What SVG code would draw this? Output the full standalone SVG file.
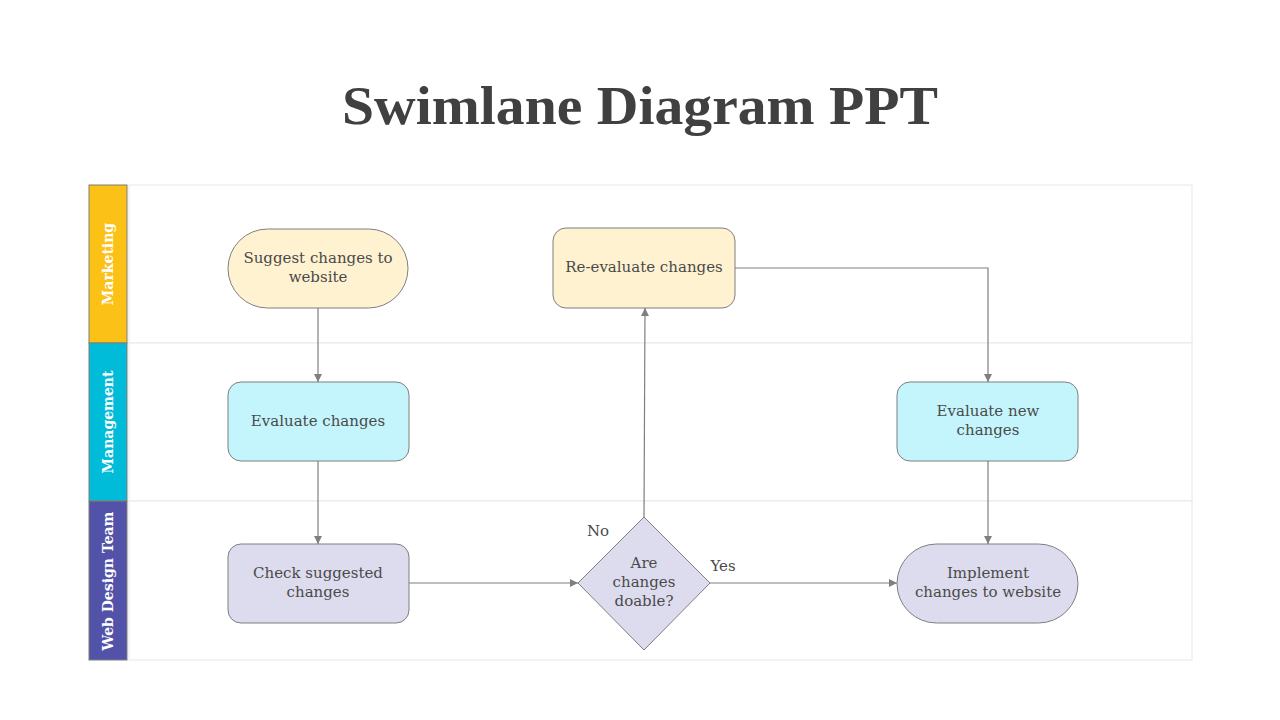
<svg xmlns="http://www.w3.org/2000/svg" width="1280" height="720" viewBox="0 0 1280 720">
<defs>
<marker id="arr" viewBox="0 0 10 10" refX="10" refY="5" markerWidth="8" markerHeight="8" markerUnits="userSpaceOnUse" orient="auto">
<path d="M0,0 L10,5 L0,10 z" fill="#7f7f7f"/>
</marker>
<style>
.title{font-family:"Liberation Serif","DejaVu Serif",serif;font-weight:bold;font-size:54px;fill:#404040}
.lane{stroke:#ececec;stroke-width:1.2;fill:#fff}
.hdr{stroke:#7f7f7f;stroke-width:1}
.lbl{font-family:"DejaVu Serif","Liberation Serif",serif;font-weight:bold;font-size:14px;fill:#fff}
.node{stroke:#7f7f7f;stroke-width:1}
.y{fill:#fff2d1}.c{fill:#c4f5fc}.p{fill:#dddcef}
.t{font-family:"DejaVu Serif","Liberation Serif",serif;font-size:15px;fill:#4a4a4a;text-anchor:middle}
.conn{fill:none;stroke:#7f7f7f;stroke-width:1.2}
</style>
</defs>
<rect width="1280" height="720" fill="#fff"/>
<text class="title" x="640" y="124" text-anchor="middle" textLength="596" lengthAdjust="spacingAndGlyphs">Swimlane Diagram PPT</text>

<g id="lanes">
<rect class="lane" x="129" y="185" width="1063" height="158"/>
<rect class="lane" x="129" y="343" width="1063" height="158"/>
<rect class="lane" x="129" y="501" width="1063" height="159"/>
<rect class="hdr" x="89" y="185" width="38" height="158" fill="#fbc117"/>
<rect class="hdr" x="89" y="343" width="38" height="158" fill="#00bcd8"/>
<rect class="hdr" x="89" y="501" width="38" height="159" fill="#5252a8"/>
<text class="lbl" transform="translate(113,264) rotate(-90)" text-anchor="middle">Marketing</text>
<text class="lbl" transform="translate(113,422) rotate(-90)" text-anchor="middle">Management</text>
<text class="lbl" transform="translate(113,581) rotate(-90)" text-anchor="middle">Web Design Team</text>
</g>

<g id="connectors">
<line class="conn" x1="318" y1="308" x2="318" y2="382" marker-end="url(#arr)"/>
<line class="conn" x1="318" y1="461" x2="318" y2="544" marker-end="url(#arr)"/>
<line class="conn" x1="409" y1="583" x2="578" y2="583" marker-end="url(#arr)"/>
<polyline class="conn" points="644,517 645,308" marker-end="url(#arr)"/>
<polyline class="conn" points="735,268 988,268 988,382" marker-end="url(#arr)"/>
<line class="conn" x1="988" y1="461" x2="988" y2="544" marker-end="url(#arr)"/>
<line class="conn" x1="710" y1="583" x2="897" y2="583" marker-end="url(#arr)"/>
<text class="t" x="598" y="536">No</text>
<text class="t" x="723" y="571">Yes</text>
</g>

<g id="suggest">
<rect class="node y" x="228" y="229" width="180" height="79" rx="39.5"/>
<text class="t" x="318" y="263">Suggest changes to</text>
<text class="t" x="318" y="282">website</text>
</g>
<g id="reevaluate">
<rect class="node y" x="553" y="228" width="182" height="80" rx="13"/>
<text class="t" x="644" y="272">Re-evaluate changes</text>
</g>
<g id="evaluate">
<rect class="node c" x="228" y="382" width="181" height="79" rx="13"/>
<text class="t" x="318" y="426">Evaluate changes</text>
</g>
<g id="evaluate-new">
<rect class="node c" x="897" y="382" width="181" height="79" rx="13"/>
<text class="t" x="988" y="416">Evaluate new</text>
<text class="t" x="988" y="435">changes</text>
</g>
<g id="check">
<rect class="node p" x="228" y="544" width="181" height="79" rx="13"/>
<text class="t" x="318" y="578">Check suggested</text>
<text class="t" x="318" y="597">changes</text>
</g>
<g id="decision">
<polygon class="node p" points="644,517 710,583 644,650 578,583"/>
<text class="t" x="644" y="568">Are</text>
<text class="t" x="644" y="587">changes</text>
<text class="t" x="644" y="606">doable?</text>
</g>
<g id="implement">
<rect class="node p" x="897" y="544" width="181" height="79" rx="39.5"/>
<text class="t" x="988" y="578">Implement</text>
<text class="t" x="988" y="597">changes to website</text>
</g>
</svg>
